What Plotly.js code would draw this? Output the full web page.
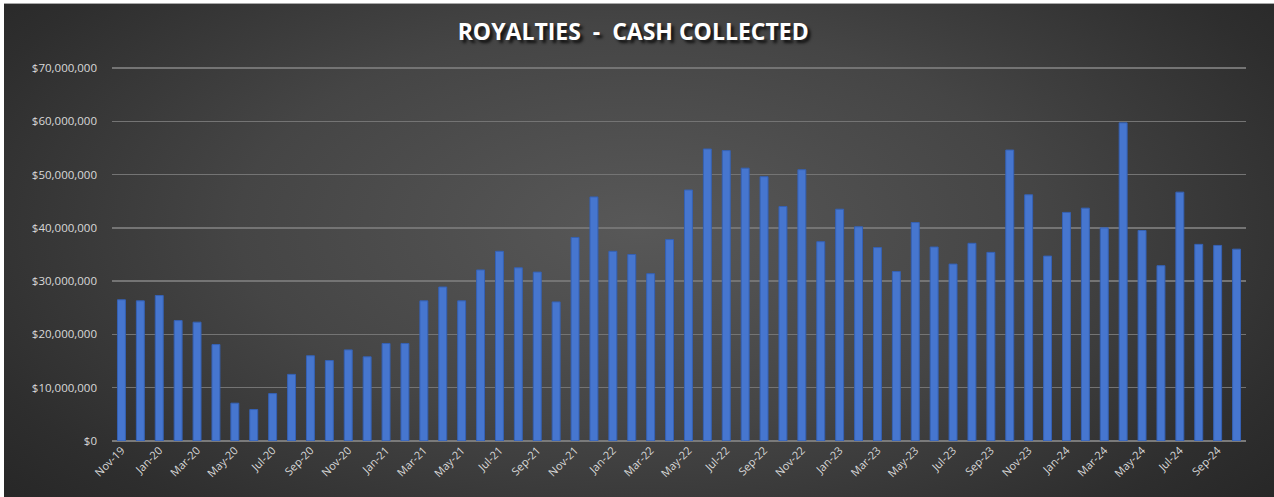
<!DOCTYPE html>
<html>
<head>
<meta charset="utf-8">
<script src="https://cdn.plot.ly/plotly-3.0.1.min.js"></script>
<style>
  html, body { margin: 0; padding: 0; background: #ffffff; }
  #wrap { position: absolute; left: 4px; top: 3px; width: 1270px; height: 494px;
          border-top: 1px solid #a8a8a8;
          background: radial-gradient(ellipse 70% 90% at 50% 45%, #585858 0%, #454545 45%, #2e2e2e 80%, #242424 100%); }
  #chart { position: absolute; left: -4px; top: -4px; width: 1274px; height: 497px; }
</style>
</head>
<body>
<div id="wrap"><div id="chart"></div></div>
<script>
const months = ["Nov-19","Dec-19","Jan-20","Feb-20","Mar-20","Apr-20","May-20","Jun-20","Jul-20","Aug-20","Sep-20","Oct-20",
  "Nov-20","Dec-20","Jan-21","Feb-21","Mar-21","Apr-21","May-21","Jun-21","Jul-21","Aug-21","Sep-21","Oct-21",
  "Nov-21","Dec-21","Jan-22","Feb-22","Mar-22","Apr-22","May-22","Jun-22","Jul-22","Aug-22","Sep-22","Oct-22",
  "Nov-22","Dec-22","Jan-23","Feb-23","Mar-23","Apr-23","May-23","Jun-23","Jul-23","Aug-23","Sep-23","Oct-23",
  "Nov-23","Dec-23","Jan-24","Feb-24","Mar-24","Apr-24","May-24","Jun-24","Jul-24","Aug-24","Sep-24","Oct-24"];

const cashCollected = [26500000,26300000,27300000,22600000,22300000,18100000,7100000,5900000,8900000,12500000,16000000,15100000,
  17100000,15800000,18300000,18300000,26300000,28900000,26300000,32100000,35600000,32500000,31700000,26100000,
  38200000,45800000,35600000,35000000,31400000,37800000,47100000,54800000,54500000,51200000,49600000,44000000,
  50900000,37400000,43500000,40200000,36300000,31800000,41000000,36400000,33200000,37100000,35400000,54600000,
  46200000,34700000,42900000,43700000,40000000,59700000,39500000,32900000,46700000,36900000,36700000,36000000];

const tickLabels = months.filter((m, i) => i % 2 === 0);
const yTicks = [0,10000000,20000000,30000000,40000000,50000000,60000000,70000000];
const yTickText = ["$0","$10,000,000","$20,000,000","$30,000,000","$40,000,000","$50,000,000","$60,000,000","$70,000,000"];

const trace = {
  type: 'bar',
  x: months,
  y: cashCollected,
  marker: { color: '#4676cf', line: { color: '#3561b4', width: 1 } },
  hoverinfo: 'x+y'
};

const layout = {
  width: 1274, height: 497,
  paper_bgcolor: 'rgba(0,0,0,0)',
  plot_bgcolor: 'rgba(0,0,0,0)',
  margin: { l: 112, r: 28, t: 65, b: 56 },
  bargap: 0.58,
  showlegend: false,
  title: {
    text: '<b>ROYALTIES  -  CASH COLLECTED</b>',
    x: 0.497, xanchor: 'center', y: 0.935, yanchor: 'middle',
    font: { family: 'Open Sans, Noto Sans, sans-serif', size: 23, color: '#ffffff', shadow: '3px 3px 3px rgba(0,0,0,0.75)' }
  },
  xaxis: {
    type: 'category',
    tickmode: 'array',
    tickvals: tickLabels,
    ticktext: tickLabels,
    tickangle: -45,
    tickfont: { family: 'Open Sans, Noto Sans, sans-serif', size: 11, color: '#d9d9d9' },
    showgrid: false,
    zeroline: false,
    showline: false,
    ticks: ''
  },
  yaxis: {
    range: [0, 70560000],
    tickmode: 'array',
    tickvals: yTicks,
    ticktext: yTickText,
    tickfont: { family: 'Open Sans, Noto Sans, sans-serif', size: 11.5, color: '#d9d9d9' },
    gridcolor: '#747474',
    gridwidth: 1.5,
    zeroline: true,
    zerolinecolor: '#7a7a7a',
    zerolinewidth: 2,
    showline: false,
    ticks: '',
    ticklabelstandoff: 14
  }
};

Plotly.newPlot('chart', [trace], layout, { displayModeBar: false, staticPlot: true });
</script>
</body>
</html>
